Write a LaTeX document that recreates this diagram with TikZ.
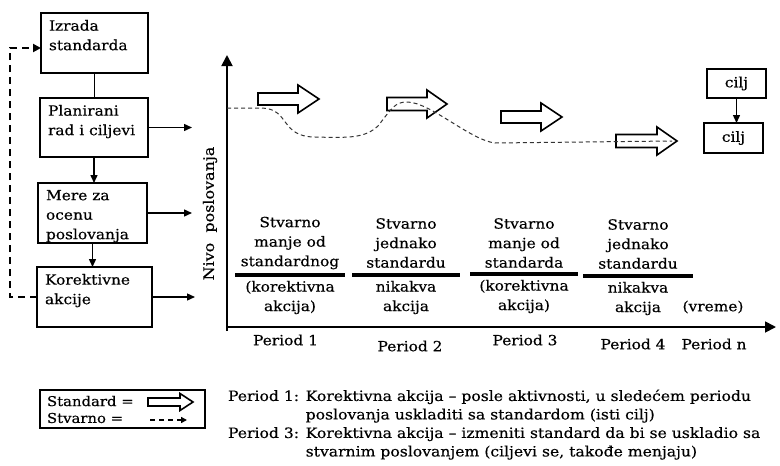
\documentclass[tikz,border=0pt]{standalone}
\usepackage{fontspec}
\setmainfont{DejaVu Serif}[FakeStretch=1.1, FakeBold=0.4]
\usetikzlibrary{arrows.meta}

\tikzset{
  every node/.style={inner sep=0pt, outer sep=0pt, font=\fontsize{14}{19.5}\selectfont},
  lbox/.style={draw, line width=1.8pt, anchor=north west},
  ltext/.style={anchor=north west, align=left},
  ctext/.style={align=center},
  conn/.style={line width=1.4pt},
  tip/.style={-{Triangle[length=8pt,width=7pt]}},
  fbline/.style={line width=2.4pt, dash pattern=on 7pt off 5pt, -{Triangle[length=8pt,width=8pt]}},
  axis/.style={line width=1.8pt, -{Triangle[length=11pt,width=11pt]}},
  actual/.style={line width=1pt, draw=black!80, dash pattern=on 4pt off 3pt},
  bar/.style={line width=4pt},
  cbox/.style={draw, line width=1.8pt},
  pics/barrow/.style n args={4}{code={
    \draw[line width=1.6pt, fill=white, line join=miter]
      (0,-#2) -- ({#1-#4},-#2) -- ({#1-#4},-#3) -- (#1,0)
      -- ({#1-#4},#3) -- ({#1-#4},#2) -- (0,#2) -- cycle;
  }},
}

\begin{document}
\begin{tikzpicture}[x=1pt,y=-1pt]
\useasboundingbox (0,0) rectangle (780,466);

% process boxes on the left
\node[lbox, minimum width=107pt, minimum height=60pt] (b1) at (41,13) {};
\node[lbox, minimum width=108pt, minimum height=59pt] (b2) at (40,98) {};
\node[lbox, minimum width=109pt, minimum height=60pt] (b3) at (38,183) {};
\node[lbox, minimum width=115pt, minimum height=60pt] (b4) at (37,267) {};
\node[ltext] (b1t) at ([shift={(8,7)}]b1.north west) {Izrada\\standarda};
\node[ltext] (b2t) at ([shift={(8,7)}]b2.north west) {Planirani\\rad i ciljevi};
\node[ltext] (b3t) at ([shift={(8,7)}]b3.north west) {Mere za\\ocenu\\poslovanja};
\node[ltext] (b4t) at ([shift={(8,7)}]b4.north west) {Korektivne\\akcije};

\draw[conn] (b1.south) -- (b1.south |- b2.north);
\draw[conn, tip] (b2.south) -- (b2.south |- b3.north);
\draw[conn, tip] (b3.south) -- (b3.south |- b4.north);

\coordinate (r2) at (192,127.5);
\coordinate (r3) at (192,213);
\coordinate (r4) at (195,297);
\draw[conn, tip] (b2.east) -- (r2);
\draw[conn, tip] (b3.east) -- (r3);
\draw[conn, tip] (b4.east) -- (r4);

% feedback loop
\coordinate (fb) at (10,48);
\draw[fbline] (b4.west) -- (b4.west -| fb) -- (fb) -- (fb -| b1.west);

% axes
\coordinate (o) at (227,327);
\coordinate (ybot) at (227,331);
\coordinate (ytip) at (227,55);
\coordinate (xtip) at (776,327);
\draw[axis] (ybot) -- (ytip);
\draw[axis] (o) -- (xtip);
\node[rotate=90, font=\fontsize{14.5}{16}\selectfont] (ylab) at (210,213.5) {Nivo\ \ poslovanja};

% standards (block arrows)
\pic at (258,99) {barrow={61}{6}{14}{21}};
\pic at (387,104) {barrow={60}{6.5}{14}{20}};
\pic at (501,117) {barrow={61}{6}{14}{21}};
\pic at (616,141) {barrow={61}{6.5}{14}{20}};

% actual performance
\draw[actual] (227,108) -- (262,108)
  .. controls (290,109) and (280,137) .. (315,137)
  .. controls (350,138) and (365,138) .. (378,126)
  .. controls (392,108) and (395,102) .. (407,102)
  .. controls (430,102) and (470,140) .. (495,143)
  -- (672,141);

% goals
\node[cbox, minimum width=59pt, minimum height=29pt] (c1) at (736.5,83.5) {cilj};
\node[cbox, minimum width=59pt, minimum height=30pt] (c2) at (733.5,138) {cilj};
\draw[conn, tip] (c1.south) -- (c1.south |- c2.north);

% period descriptions
\node[ctext] (t1) at (290,243) {Stvarno\\manje od\\standardnog};
\node[ctext] (u1) at (290,297.5) {(korektivna\\akcija)};
\draw[bar] (235,275) -- (345,275);
\node[ctext] (t2) at (406,243) {Stvarno\\jednako\\standardu};
\node[ctext] (u2) at (406,297.5) {nikakva\\akcija};
\draw[bar] (352,275) -- (460,275);
\node[ctext] (t3) at (524,243) {Stvarno\\manje od\\standarda};
\node[ctext] (u3) at (524,296.5) {(korektivna\\akcija)};
\draw[bar] (470,274) -- (578,274);
\node[ctext] (t4) at (638,244) {Stvarno\\jednako\\standardu};
\node[ctext] (u4) at (638,298.5) {nikakva\\akcija};
\draw[bar] (583,276) -- (693,276);
\node (vr) at (713,307) {(vreme)};

% period labels on the time axis
\node (p1) at (285.5,340) {Period 1};
\node (p2) at (410,346) {Period 2};
\node (p3) at (525,340) {Period 3};
\node (p4) at (633,344) {Period 4};
\node (pn) at (714,344) {Period n};

% legend
\node[draw, line width=1.5pt, anchor=north west, minimum width=165pt, minimum height=38pt] (leg) at (40,390) {};
\node[anchor=west, font=\fontsize{13.5}{16}\selectfont] (ls) at (47,401) {Standard =};
\node[anchor=west, font=\fontsize{13.5}{16}\selectfont] (la) at (47,418) {Stvarno =};
\pic at (148,402) {barrow={45}{4}{8.5}{13}};
\coordinate (ds) at (150,420);
\coordinate (de) at (187,420);
\draw[line width=1.8pt, dash pattern=on 5pt off 4pt, -{Triangle[length=6pt,width=6pt]}] (ds) -- (de);

% notes
\node[anchor=west, font=\fontsize{14.2}{18.5}\selectfont] (notes) at (228,425) {%
\begin{tabular}{@{}l@{ }l@{}}
Period 1: & Korektivna akcija – posle aktivnosti, u sledećem periodu\\
 & poslovanja uskladiti sa standardom (isti cilj)\\
Period 3: & Korektivna akcija – izmeniti standard da bi se uskladio sa\\
 & stvarnim poslovanjem (ciljevi se, takođe menjaju)
\end{tabular}};
\end{tikzpicture}
\end{document}
